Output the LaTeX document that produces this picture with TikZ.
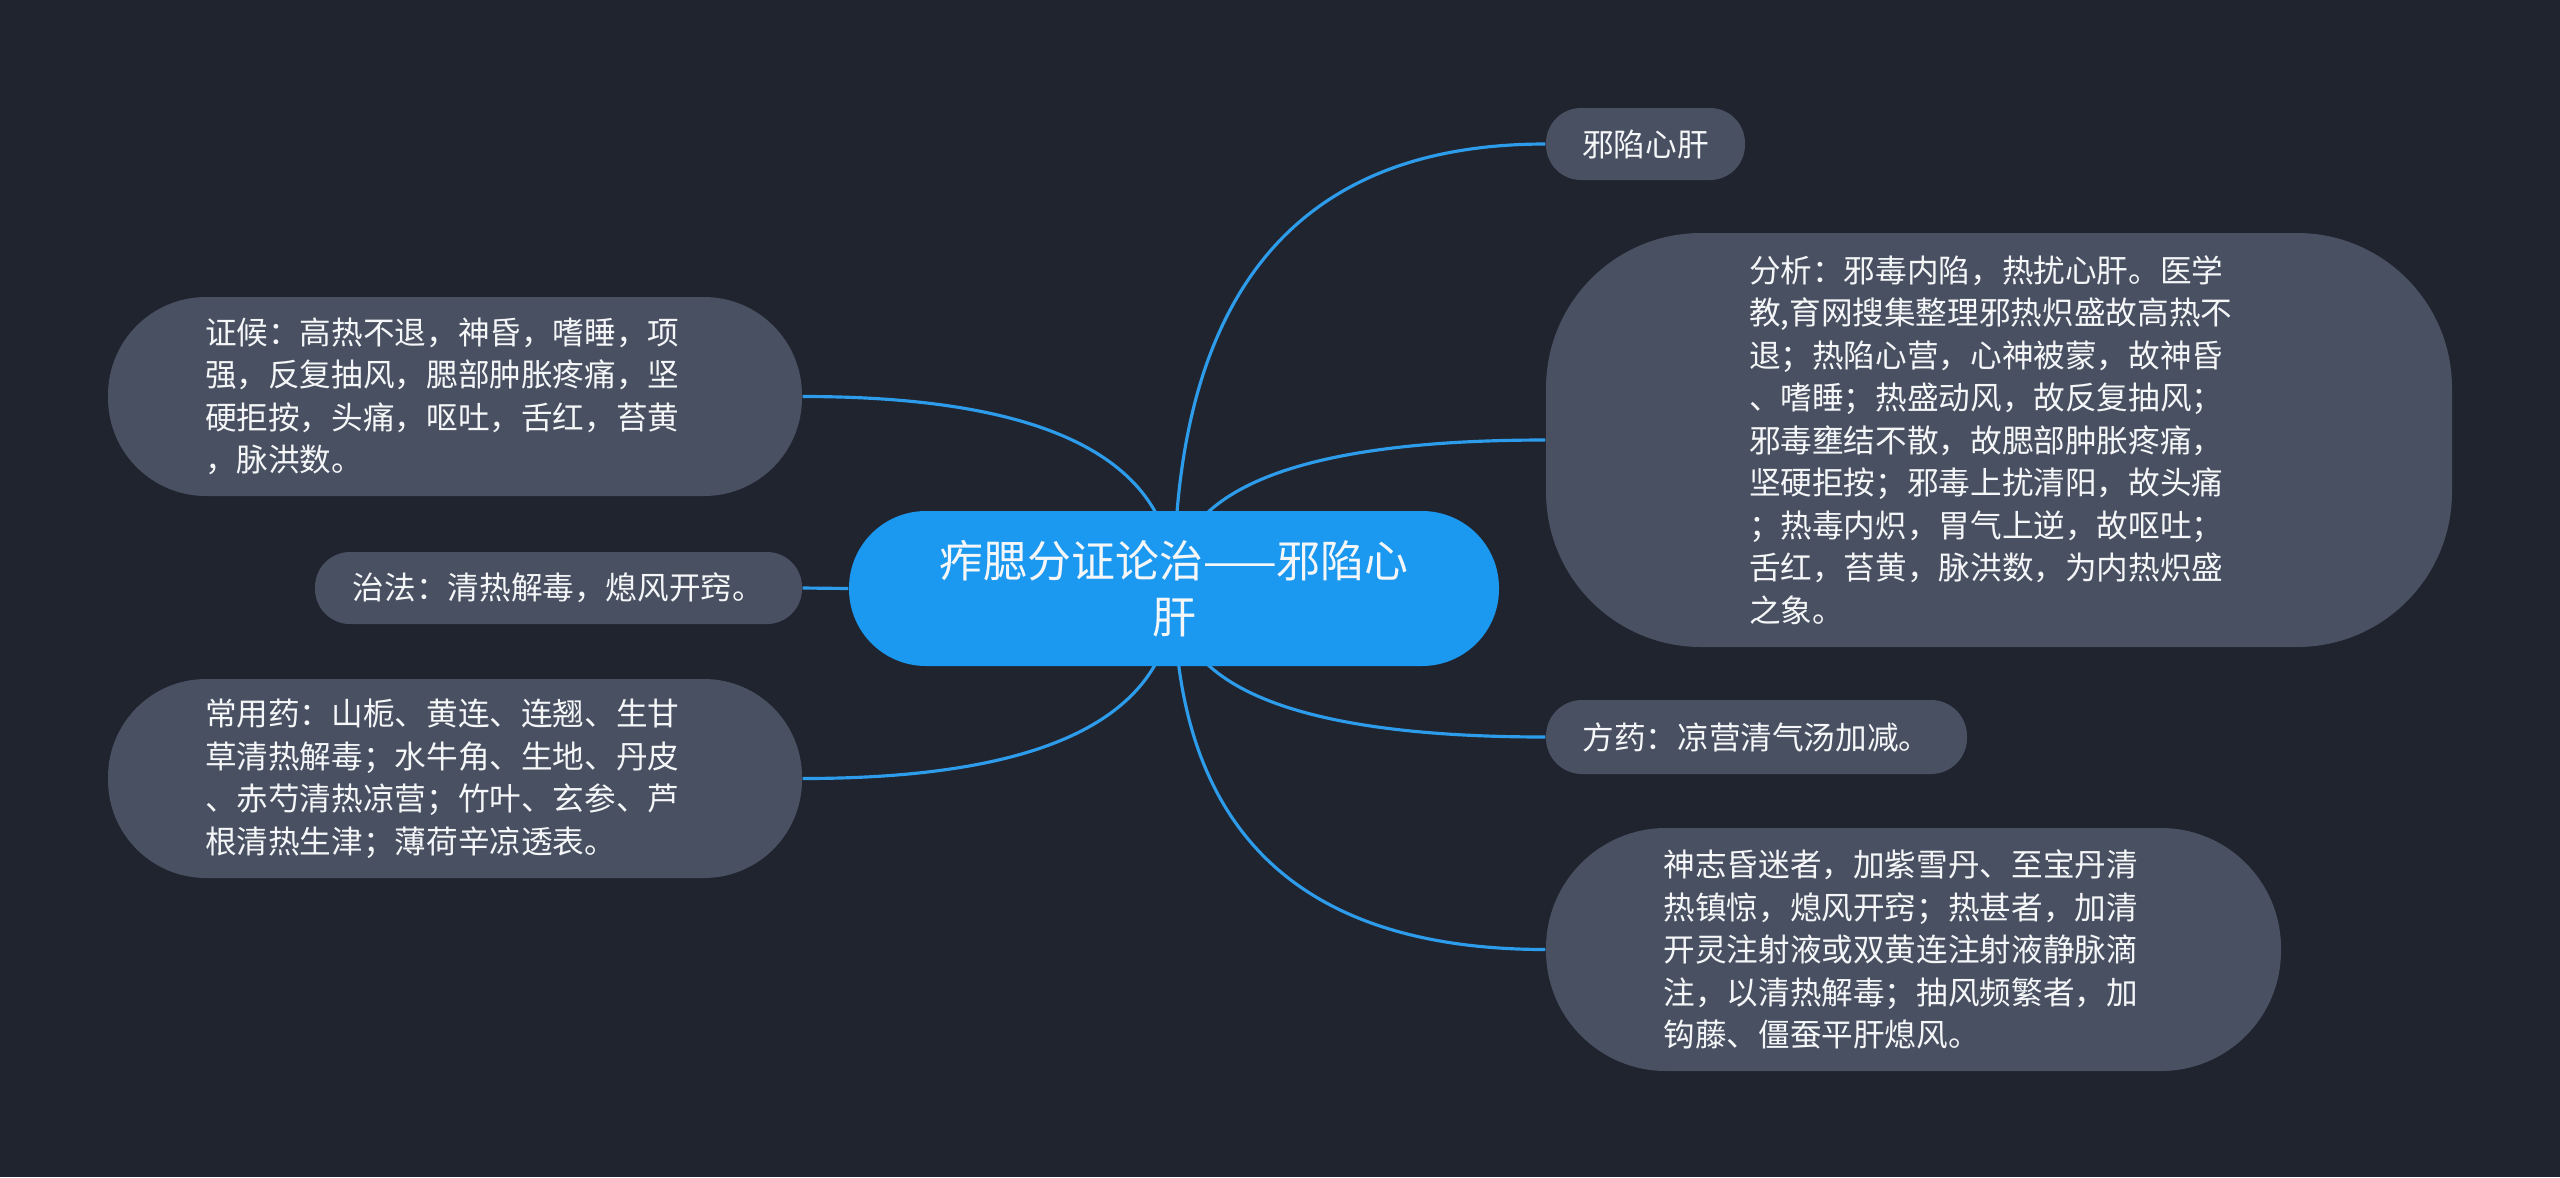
\documentclass[tikz,border=0pt]{standalone}
\usepackage{fontspec}
\newfontfamily\cjk{Noto Sans CJK SC}
\usetikzlibrary{calc, backgrounds}
\definecolor{bgdark}{HTML}{20242F}
\definecolor{rootblue}{HTML}{1B98F0}
\definecolor{linkblue}{HTML}{2D9CEB}
\definecolor{topicgray}{HTML}{495061}
\definecolor{txtwhite}{HTML}{F4F6F8}

\begin{document}
\begin{tikzpicture}[
  root/.style={fill=rootblue, rounded corners=7.7mm, minimum width=65mm,
    minimum height=15.5mm, font=\cjk\fontsize{12.5}{15.8}\selectfont,
    text=txtwhite, align=center, inner sep=0pt},
  topic/.style={fill=topicgray, rounded corners=#1,
    font=\cjk\fontsize{9}{12.1}\selectfont, text=txtwhite,
    align=left, inner sep=0pt},
  branch/.style={draw=linkblue, line width=0.9pt},
]

% =============================================
% Centre
% =============================================
\node[root] (root) at (11.74,-5.885)
  {痄腮分证论治——邪陷心\\肝};

% =============================================
% Right side
% =============================================
\node[topic=3.5mm, minimum width=19.9mm, minimum height=7.2mm] (xianxin)
  at (16.455,-1.44) {邪陷心肝};

\node[topic=15.5mm, minimum width=90.6mm, minimum height=41.4mm,
  text width=50mm] (fenxi) at (19.99,-4.40)
  {分析：邪毒内陷，热扰心肝。医学\\
   教,育网搜集整理邪热炽盛故高热不\\
   退；热陷心营，心神被蒙，故神昏\\
   、嗜睡；热盛动风，故反复抽风；\\
   邪毒壅结不散，故腮部肿胀疼痛，\\
   坚硬拒按；邪毒上扰清阳，故头痛\\
   ；热毒内炽，胃气上逆，故呕吐；\\
   舌红，苔黄，脉洪数，为内热炽盛\\
   之象。};

\node[topic=3.6mm, minimum width=42.1mm, minimum height=7.4mm] (fangyao)
  at (17.565,-7.37) {方药：凉营清气汤加减。};

\node[topic=12mm, minimum width=73.5mm, minimum height=24.3mm,
  text width=50mm] (jiajian) at (19.135,-9.495)
  {神志昏迷者，加紫雪丹、至宝丹清\\
   热镇惊，熄风开窍；热甚者，加清\\
   开灵注射液或双黄连注射液静脉滴\\
   注，以清热解毒；抽风频繁者，加\\
   钩藤、僵蚕平肝熄风。};

% =============================================
% Left side
% =============================================
\node[topic=9.8mm, minimum width=69.4mm, minimum height=19.9mm,
  text width=50mm] (zhenghou) at (4.55,-3.965)
  {证候：高热不退，神昏，嗜睡，项\\
   强，反复抽风，腮部肿胀疼痛，坚\\
   硬拒按，头痛，呕吐，舌红，苔黄\\
   ，脉洪数。};

\node[topic=3.5mm, minimum width=48.7mm, minimum height=7.2mm] (zhifa)
  at (5.585,-5.88) {治法：清热解毒，熄风开窍。};

\node[topic=9.8mm, minimum width=69.4mm, minimum height=19.9mm,
  text width=50mm] (changyong) at (4.55,-7.785)
  {常用药：山栀、黄连、连翘、生甘\\
   草清热解毒；水牛角、生地、丹皮\\
   、赤芍清热凉营；竹叶、玄参、芦\\
   根清热生津；薄荷辛凉透表。};

% =============================================
% Background and branches (behind the nodes)
% =============================================
\begin{scope}[on background layer]
\fill[bgdark] (0,0) rectangle (25.6,-11.77);

\coordinate (k1) at (root.center |- xianxin.west);
\coordinate (k2) at (root.center |- fenxi.west);
\coordinate (k3) at (root.center |- fangyao.west);
\coordinate (k4) at (root.center |- jiajian.west);
\coordinate (k5) at (root.center |- zhenghou.east);
\coordinate (k6) at (root.center |- changyong.east);

\draw[branch] (root.center) .. controls ($(root.center)!0.667!(k1)$)
  and ($(xianxin.west)!0.667!(k1)$) .. (xianxin.west);
\draw[branch] (root.center) .. controls ($(root.center)!0.667!(k2)$)
  and ($(fenxi.west)!0.667!(k2)$) .. (fenxi.west);
\draw[branch] (root.center) .. controls ($(root.center)!0.667!(k3)$)
  and ($(fangyao.west)!0.667!(k3)$) .. (fangyao.west);
\draw[branch] (root.center) .. controls ($(root.center)!0.667!(k4)$)
  and ($(jiajian.west)!0.667!(k4)$) .. (jiajian.west);
\draw[branch] (root.center) .. controls ($(root.center)!0.667!(k5)$)
  and ($(zhenghou.east)!0.667!(k5)$) .. (zhenghou.east);
\draw[branch] (root.center) .. controls ($(root.center)!0.667!(k6)$)
  and ($(changyong.east)!0.667!(k6)$) .. (changyong.east);
\draw[branch] (root.west) -- (zhifa.east);
\end{scope}

\end{tikzpicture}
\end{document}
